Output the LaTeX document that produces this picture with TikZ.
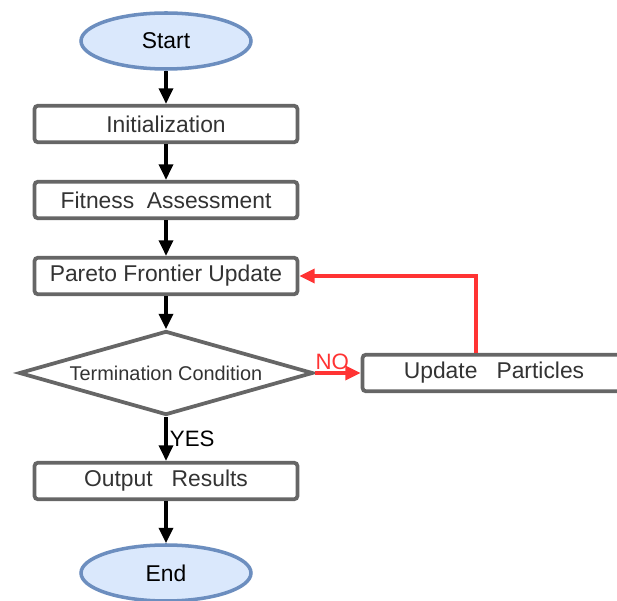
\documentclass[tikz,border=0pt]{standalone}
\usepackage{fontspec}
\setmainfont{Liberation Sans}
\usetikzlibrary{shapes.geometric,arrows.meta}

\definecolor{termfill}{HTML}{DAE8FC}
\definecolor{termline}{HTML}{6C8EBF}
\definecolor{boxline}{HTML}{666666}
\definecolor{txt}{HTML}{333333}
\definecolor{loopred}{HTML}{FF3333}

\tikzset{
  terminal/.style={ellipse,draw=termline,fill=termfill,line width=3pt,
    minimum width=5.1cm,minimum height=1.68cm,inner sep=0pt,
    font=\fontsize{19.5}{22}\selectfont,text=black},
  process/.style={rectangle,rounded corners=3pt,draw=boxline,fill=white,line width=3.2pt,
    minimum width=7.89cm,minimum height=1.1cm,inner sep=0pt,
    font=\fontsize{19.5}{22}\selectfont,text=txt},
  decision/.style={diamond,shape aspect=3.5,draw=boxline,fill=white,line width=3.2pt,
    minimum width=8.82cm,minimum height=2.52cm,inner sep=0pt,
    font=\fontsize{17}{20}\selectfont,text=txt},
  flow/.style={line width=2.8pt,-{Triangle[length=0.46cm,width=0.42cm]}},
  loopback/.style={flow,draw=loopred,line width=3pt}
}

\begin{document}
\begin{tikzpicture}[x=0.03cm,y=-0.03cm]
        \clip (0,0) rectangle (617,601);

        \node[terminal] (start) at (166,41) {Start};
        \node[process] (init) at (166,124) {Initialization};
        \node[process] (fit) at (166,200) {Fitness\ \ Assessment};
        \node[process] (pareto) at (166,276) {Pareto Frontier Update};
        \node[decision] (cond) at (166,373) {Termination Condition};
        \node[process] (upd) at (494,373) {Update\ \ \ Particles};
        \node[process] (out) at (166,481) {Output\ \ \ Results};
        \node[terminal] (end) at (166,573) {End};

        \draw[flow] (start) -- (init);
        \draw[flow] (init) -- (fit);
        \draw[flow] (fit) -- (pareto);
        \draw[flow] (pareto) -- (cond);
        \draw[flow] (cond) -- (out) node[pos=0.5,right,inner sep=2pt,font=\fontsize{19}{22}\selectfont] {YES};
        \draw[flow] (out) -- (end);

        % NO branch and loop back
        \coordinate (turn) at (476,276);
        \draw[loopback] (cond) -- (upd) node[pos=0.38,above,inner sep=1pt,text=loopred,font=\fontsize{19}{22}\selectfont] {NO};
        \draw[loopback] (upd.north -| turn) |- (pareto.east);
      \end{tikzpicture}
\end{document}
